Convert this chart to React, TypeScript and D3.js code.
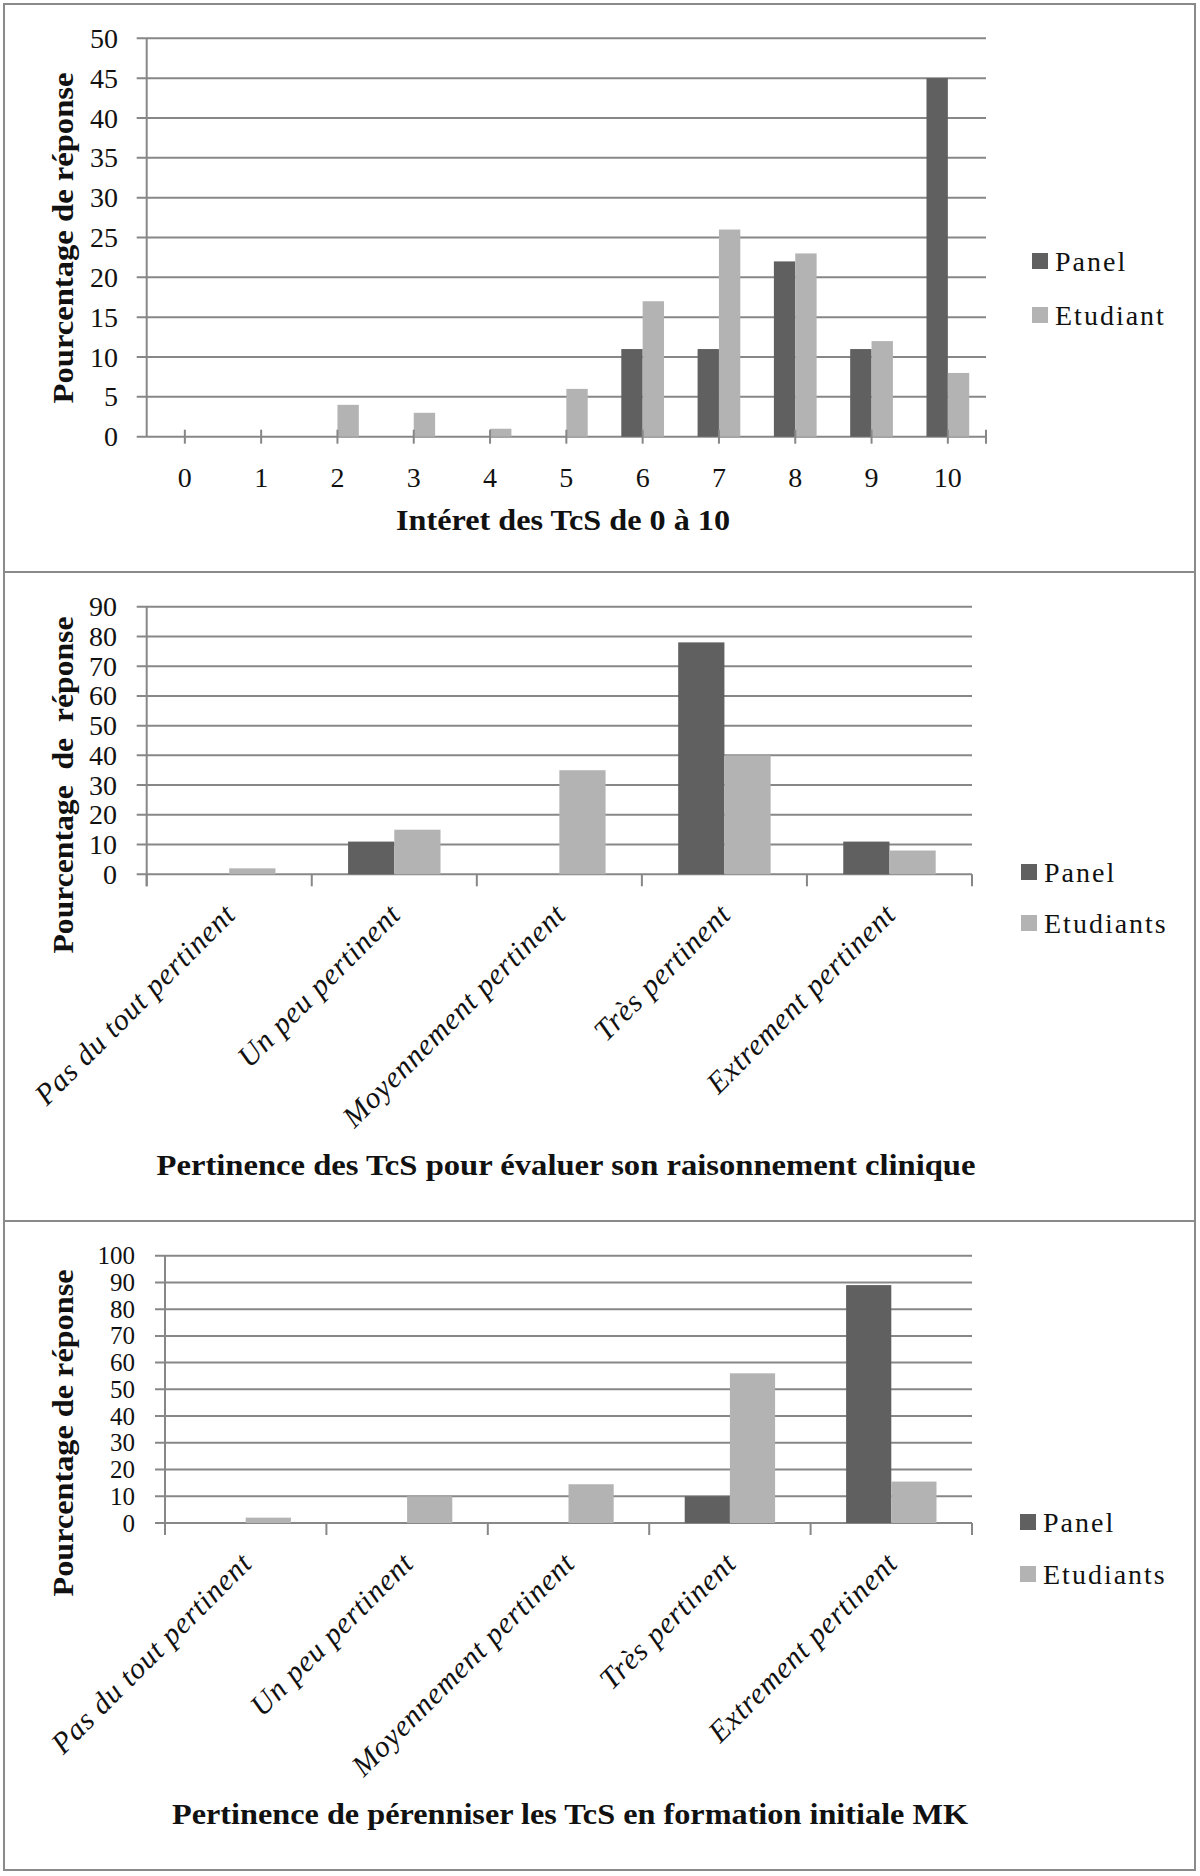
import React from 'react';
import * as d3 from 'd3';

// Chart 1 : intérêt des TcS (0 à 10)
const interetCategories = ['0', '1', '2', '3', '4', '5', '6', '7', '8', '9', '10'];
const interetPanel = [0, 0, 0, 0, 0, 0, 11, 11, 22, 11, 45];
const interetEtudiant = [0, 0, 4, 3, 1, 6, 17, 26, 23, 12, 8];

// Charts 2 and 3 share the same categories
const pertinenceCategories = [
  'Pas du tout pertinent',
  'Un peu pertinent',
  'Moyennement pertinent',
  'Très pertinent',
  'Extrement pertinent',
];
const evaluerPanel = [0, 11, 0, 78, 11];
const evaluerEtudiants = [2, 15, 35, 40, 8];
const perenniserPanel = [0, 0, 0, 10, 89];
const perenniserEtudiants = [2, 10, 14.5, 56, 15.5];

const PANEL_COLOR = '#606060';
const ETUDIANT_COLOR = '#b3b3b3';
const GRID_COLOR = '#878787';
const TEXT_COLOR = '#111';
const SERIF = '"Liberation Serif", "Times New Roman", serif';

interface ChartProps {
  categories: string[];
  panel: number[];
  etudiant: number[];
  seriesNames: [string, string];
  yMax: number;
  yTicks: number;
  left: number;
  right: number;
  top: number;
  zero: number;
  rotated: boolean;
  yTitle: string;
  yTitleY: number;
  yTitleLen: number;
  xTitle: string;
  xTitleX: number;
  xTitleY: number;
  xTitleLen: number;
  labelRight: number;
  tickFont: number;
  legendX: number;
  legendY: [number, number];
}

const Chart: React.FC<ChartProps> = (p) => {
  const x = d3.scaleBand<string>().domain(p.categories).range([p.left, p.right]).padding(0);
  const y = d3.scaleLinear().domain([0, p.yMax]).range([p.zero, p.top]);
  const bw = x.bandwidth() * 0.28;
  const ticks = y.ticks(p.yTicks);
  const center = (c: string) => (x(c) || 0) + x.bandwidth() / 2;

  return (
    <g>
      {/* gridlines */}
      {ticks.map((t) => (
        <line key={t} x1={p.left - 10} x2={p.right} y1={y(t)} y2={y(t)} stroke={GRID_COLOR} strokeWidth={2} />
      ))}
      {/* y axis */}
      <line x1={p.left} x2={p.left} y1={y(p.yMax)} y2={p.rotated ? p.zero + 12 : p.zero} stroke={GRID_COLOR} strokeWidth={2} />
      {ticks.map((t) => (
        <text key={'l' + t} x={p.labelRight} y={y(t)} dy="0.34em" textAnchor="end" fontSize={p.tickFont} fontFamily={SERIF} fill={TEXT_COLOR}>
          {t}
        </text>
      ))}

      {/* bars */}
      {p.categories.map((c, i) => (
        <g key={c}>
          {p.panel[i] > 0 && (
            <rect x={center(c) - bw} y={y(p.panel[i])} width={bw} height={p.zero - y(p.panel[i])} fill={PANEL_COLOR} />
          )}
          {p.etudiant[i] > 0 && (
            <rect x={center(c)} y={y(p.etudiant[i])} width={bw} height={p.zero - y(p.etudiant[i])} fill={ETUDIANT_COLOR} />
          )}
        </g>
      ))}

      {/* x axis ticks */}
      {p.rotated
        ? [...p.categories.map((c) => x(c) || 0), p.right].map((v, i) => (
            <line key={'t' + i} x1={v} x2={v} y1={p.zero} y2={p.zero + 12} stroke={GRID_COLOR} strokeWidth={2} />
          ))
        : [...p.categories.map(center), p.right].map((v, i) => (
            <line key={'t' + i} x1={v} x2={v} y1={p.zero - 7} y2={p.zero + 7} stroke={GRID_COLOR} strokeWidth={2} />
          ))}

      {/* category labels */}
      {p.categories.map((c) =>
        p.rotated ? (
          <text
            key={'c' + c}
            transform={`translate(${center(c) + 8},${p.zero + 42}) rotate(-45)`}
            textAnchor="end"
            fontSize={30}
            letterSpacing={0.8}
            fontStyle="italic"
            fontFamily={SERIF}
            fill={TEXT_COLOR}
          >
            {c}
          </text>
        ) : (
          <text key={'c' + c} x={center(c)} y={p.zero + 50} textAnchor="middle" fontSize={28} fontFamily={SERIF} fill={TEXT_COLOR}>
            {c}
          </text>
        )
      )}

      {/* axis titles */}
      <text
        transform={`translate(73,${p.yTitleY}) rotate(-90)`}
        textAnchor="middle"
        fontSize={30}
        fontWeight="bold"
        fontFamily={SERIF}
        fill={TEXT_COLOR}
        textLength={p.yTitleLen}
        lengthAdjust="spacingAndGlyphs"
        style={{ whiteSpace: 'pre' }}
      >
        {p.yTitle}
      </text>
      <text
        x={p.xTitleX}
        y={p.xTitleY}
        textAnchor="middle"
        fontSize={30}
        fontWeight="bold"
        fontFamily={SERIF}
        fill={TEXT_COLOR}
        textLength={p.xTitleLen}
        lengthAdjust="spacingAndGlyphs"
      >
        {p.xTitle}
      </text>

      {/* legend */}
      {p.seriesNames.map((name, i) => (
        <g key={name}>
          <rect x={p.legendX} y={p.legendY[i] - 8} width={16} height={16} fill={i === 0 ? PANEL_COLOR : ETUDIANT_COLOR} />
          <text x={p.legendX + 23} y={p.legendY[i] + 10} fontSize={28} letterSpacing={2} fontFamily={SERIF} fill={TEXT_COLOR}>
            {name}
          </text>
        </g>
      ))}
    </g>
  );
};

const App: React.FC = () => {
  return (
    <div style={{ position: 'absolute', left: 0, top: 0 }}>
      <svg width={1200} height={1876} style={{ display: 'block', background: '#fff' }}>
        <rect x={4} y={4} width={1191} height={1866} fill="#fff" stroke="#8a8a8a" strokeWidth={2} />
        <line x1={4} x2={1195} y1={572} y2={572} stroke="#8a8a8a" strokeWidth={2} />
        <line x1={4} x2={1195} y1={1221} y2={1221} stroke="#8a8a8a" strokeWidth={2} />

        <Chart
          categories={interetCategories}
          panel={interetPanel}
          etudiant={interetEtudiant}
          seriesNames={['Panel', 'Etudiant']}
          yMax={50}
          yTicks={10}
          left={146.7}
          right={986}
          top={38.3}
          zero={436.7}
          rotated={false}
          yTitle="Pourcentage de réponse"
          yTitleY={238}
          yTitleLen={331}
          xTitle="Intéret des TcS de 0 à 10"
          xTitleX={563}
          xTitleY={530}
          xTitleLen={334}
          labelRight={118}
          tickFont={28}
          legendX={1032}
          legendY={[261, 315]}
        />

        <Chart
          categories={pertinenceCategories}
          panel={evaluerPanel}
          etudiant={evaluerEtudiants}
          seriesNames={['Panel', 'Etudiants']}
          yMax={90}
          yTicks={9}
          left={146.7}
          right={972}
          top={606.7}
          zero={874.3}
          rotated={true}
          yTitle="Pourcentage  de  réponse"
          yTitleY={785}
          yTitleLen={337}
          xTitle="Pertinence des TcS pour évaluer son raisonnement clinique"
          xTitleX={566}
          xTitleY={1175}
          xTitleLen={819}
          labelRight={117}
          tickFont={28}
          legendX={1021}
          legendY={[872, 923]}
        />

        <Chart
          categories={pertinenceCategories}
          panel={perenniserPanel}
          etudiant={perenniserEtudiants}
          seriesNames={['Panel', 'Etudiants']}
          yMax={100}
          yTicks={10}
          left={165}
          right={972}
          top={1255.7}
          zero={1523}
          rotated={true}
          yTitle="Pourcentage de réponse"
          yTitleY={1433}
          yTitleLen={327}
          xTitle="Pertinence de pérenniser les TcS en formation initiale MK"
          xTitleX={570}
          xTitleY={1824}
          xTitleLen={796}
          labelRight={135}
          tickFont={25}
          legendX={1020}
          legendY={[1522, 1574]}
        />
      </svg>
    </div>
  );
};

export default App;
